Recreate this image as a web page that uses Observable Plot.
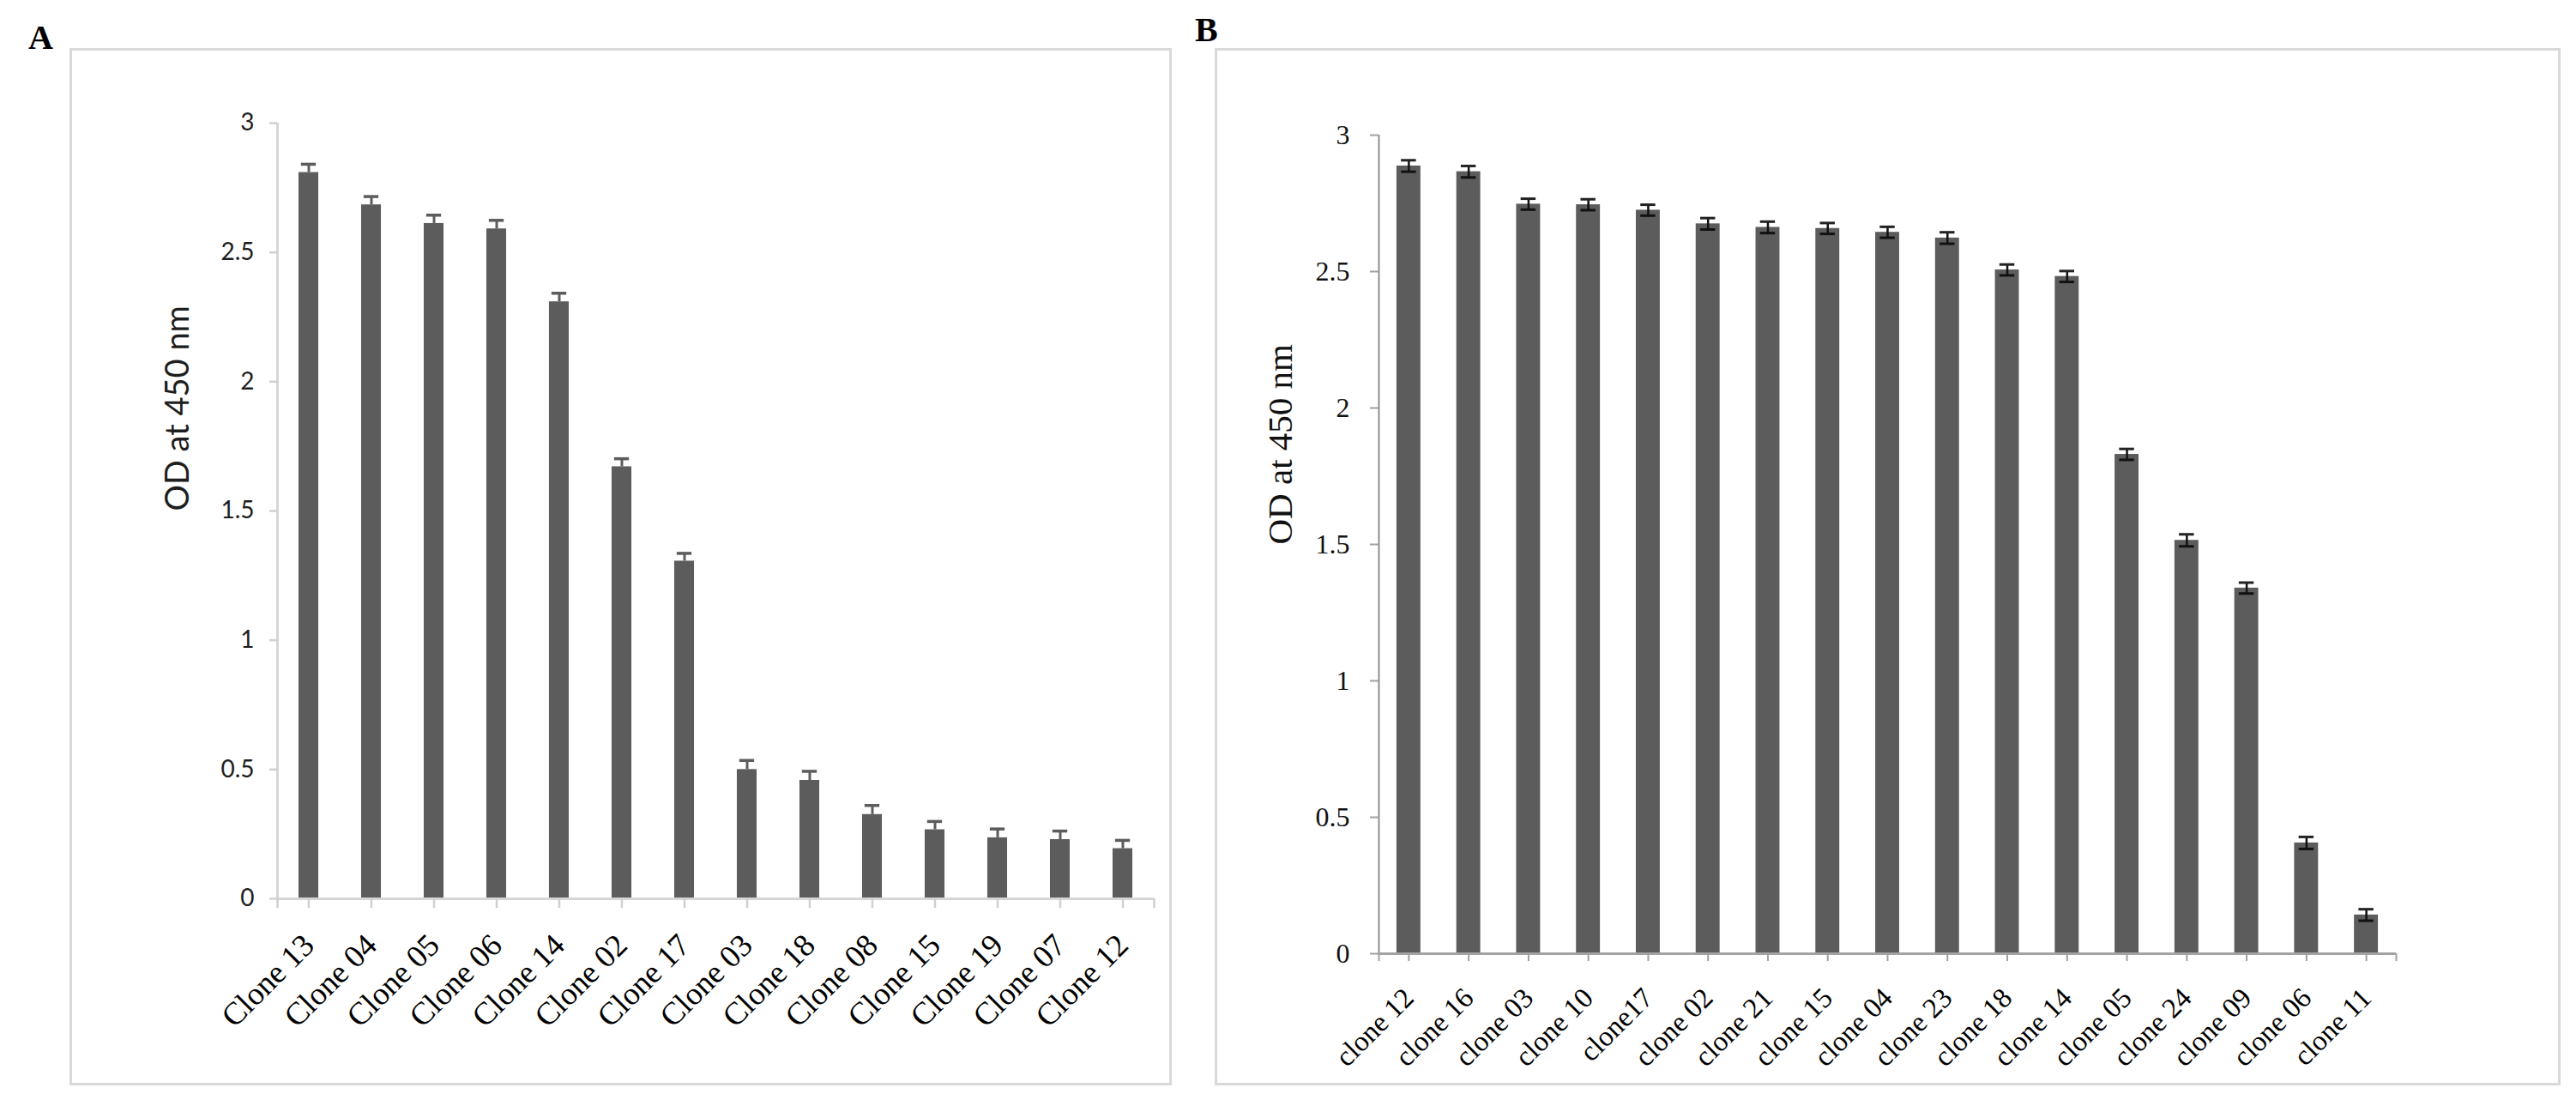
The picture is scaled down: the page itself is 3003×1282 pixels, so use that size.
<!DOCTYPE html>
<html><head><meta charset="utf-8">
<script src="https://cdn.jsdelivr.net/npm/d3@7"></script>
<script src="https://cdn.jsdelivr.net/npm/@observablehq/plot@0.6"></script>
<style>
html,body{margin:0;padding:0;background:#fff;}
#page{position:relative;width:3003px;height:1282px;overflow:hidden;background:#fff;}
.frame{position:absolute;border:3px solid #d9d9d9;box-sizing:border-box;}
.plabel{position:absolute;font-family:"Liberation Serif",serif;font-weight:bold;font-size:40px;line-height:40px;color:#000;}
.chart{position:absolute;top:0;}
</style></head>
<body><div id="page">
<div class="frame" style="left:81px;top:56px;width:1285px;height:1209px"></div>
<div class="frame" style="left:1416px;top:56px;width:1569px;height:1209px"></div>
<div class="plabel" style="left:33px;top:24px">A</div>
<div class="plabel" style="left:1393px;top:15px">B</div>
<div class="chart" id="chartA" style="left:0px"></div>
<div class="chart" id="chartB" style="left:1400px"></div>
</div>
<script>
// ---- Panel A data ----
const catsA = ["Clone 13","Clone 04","Clone 05","Clone 06","Clone 14","Clone 02","Clone 17","Clone 03","Clone 18","Clone 08","Clone 15","Clone 19","Clone 07","Clone 12"];
const valsA = [2.809,2.684,2.612,2.591,2.309,1.671,1.306,0.500,0.458,0.326,0.267,0.236,0.229,0.194];
const errA  = [0.032,0.032,0.032,0.033,0.033,0.031,0.030,0.035,0.035,0.035,0.032,0.034,0.033,0.032];
const yTicksA = [0,0.5,1,1.5,2,2.5,3];

// ---- Panel B data ----
const catsB = ["clone 12","clone 16","clone 03","clone 10","clone17","clone 02","clone 21","clone 15","clone 04","clone 23","clone 18","clone 14","clone 05","clone 24","clone 09","clone 06","clone 11"];
const valsB = [2.887,2.866,2.747,2.745,2.725,2.675,2.662,2.658,2.644,2.623,2.506,2.482,1.830,1.515,1.340,0.406,0.142];
const errB  = [0.021,0.021,0.020,0.020,0.020,0.021,0.021,0.020,0.020,0.021,0.020,0.020,0.020,0.022,0.020,0.022,0.021];
const yTicksB = [0,0.5,1,1.5,2,2.5,3];

const yLabel = "OD at 450 nm";
const barColor = "#5c5c5c";

const dataA = catsA.map((c,i)=>({i, c, v: valsA[i], e: errA[i]}));
const dataB = catsB.map((c,i)=>({i, c, v: valsB[i], e: errB[i]}));

function xTickPositions(n){ const t=[0]; for(let i=0;i<n;i++) t.push(i+0.5); t.push(n); return t; }

// ---- Chart A ----
{
  const n = catsA.length, bw = 0.316, cw = 0.237;
  const chart = Plot.plot({
    width: 1400, height: 1282,
    marginLeft: 323, marginRight: 55, marginTop: 143, marginBottom: 235,
    style: {background: "transparent", fontFamily: "'Liberation Serif', serif", fontSize: "37px"},
    x: {type: "linear", domain: [0, n], axis: null},
    y: {domain: [0, 3], axis: null},
    marks: [
      Plot.rect(dataA, {x1: d=>d.i+(1-bw)/2, x2: d=>d.i+(1+bw)/2, y1: 0, y2: "v", fill: barColor}),
      Plot.ruleX(dataA, {x: d=>d.i+0.5, y1: "v", y2: d=>d.v+d.e, stroke: barColor, strokeWidth: 3}),
      Plot.ruleY(dataA, {y: d=>d.v+d.e, x1: d=>d.i+0.5-cw/2, x2: d=>d.i+0.5+cw/2, stroke: barColor, strokeWidth: 3.5}),
      Plot.ruleX([0], {stroke: "#d6d6d6", strokeWidth: 3}),
      Plot.ruleY([0], {stroke: "#d6d6d6", strokeWidth: 3}),
      Plot.axisY({ticks: yTicksA, tickFormat: () => "", tickSize: 9, stroke: "#d0d0d0", strokeWidth: 2.5, label: null}),
      Plot.text(yTicksA, {x: 0, y: d=>d, text: d=>String(d), textAnchor: "end", dx: -27,
        fontFamily: "Lato", fontSize: 28, fill: "#1e1e1e"}),
      Plot.axisX({ticks: xTickPositions(n), tickFormat: () => "", tickSize: 11, stroke: "#d0d0d0", strokeWidth: 2.5, label: null}),
      Plot.text(dataA, {x: d=>d.i+0.5, y: 0, text: "c", rotate: -45, textAnchor: "end", dy: 48,
        fontFamily: "Liberation Serif", fontSize: 37, fill: "#000"}),
      Plot.text([yLabel], {frameAnchor: "left", rotate: -90, dx: -116, fontSize: 38, fontFamily: "Lato", fill: "#1e1e1e"})
    ]
  });
  document.getElementById("chartA").appendChild(chart);
}

// ---- Chart B ----
{
  const n = catsB.length, bw = 0.40, cw = 0.25;
  const chart = Plot.plot({
    width: 1603, height: 1282,
    marginLeft: 207, marginRight: 210, marginTop: 157, marginBottom: 171,
    style: {background: "transparent", fontFamily: "'Liberation Serif', serif", fontSize: "33px"},
    x: {type: "linear", domain: [0, n], axis: null},
    y: {domain: [0, 3], axis: null},
    marks: [
      Plot.rect(dataB, {x1: d=>d.i+(1-bw)/2, x2: d=>d.i+(1+bw)/2, y1: 0, y2: "v", fill: barColor}),
      Plot.ruleX(dataB, {x: d=>d.i+0.5, y1: d=>d.v-d.e, y2: d=>d.v+d.e, stroke: "#111", strokeWidth: 2.5}),
      Plot.ruleY(dataB, {y: d=>d.v+d.e, x1: d=>d.i+0.5-cw/2, x2: d=>d.i+0.5+cw/2, stroke: "#222", strokeWidth: 3}),
      Plot.ruleY(dataB, {y: d=>d.v-d.e, x1: d=>d.i+0.5-cw/2, x2: d=>d.i+0.5+cw/2, stroke: "#111", strokeWidth: 3}),
      Plot.ruleX([0], {stroke: "#8f8f8f", strokeWidth: 2}),
      Plot.ruleY([0], {stroke: "#a3a3a3", strokeWidth: 3}),
      Plot.axisY({ticks: yTicksB, tickFormat: () => "", tickSize: 10, stroke: "#a0a0a0", strokeWidth: 2, label: null}),
      Plot.text(yTicksB, {x: 0, y: d=>d, text: d=>String(d), textAnchor: "end", dx: -34,
        fontFamily: "Liberation Serif", fontSize: 32, fill: "#111"}),
      Plot.axisX({ticks: xTickPositions(n), tickFormat: () => "", tickSize: 9, stroke: "#a0a0a0", strokeWidth: 2, label: null}),
      Plot.text(dataB, {x: d=>d.i+0.5, y: 0, text: "c", rotate: -45, textAnchor: "end", dy: 46,
        fontFamily: "Liberation Serif", fontSize: 33, fill: "#000"}),
      Plot.text([yLabel], {frameAnchor: "left", rotate: -90, dx: -115, fontSize: 41, fontFamily: "Liberation Serif", fill: "#111"})
    ]
  });
  document.getElementById("chartB").appendChild(chart);
}
</script>
</body></html>
